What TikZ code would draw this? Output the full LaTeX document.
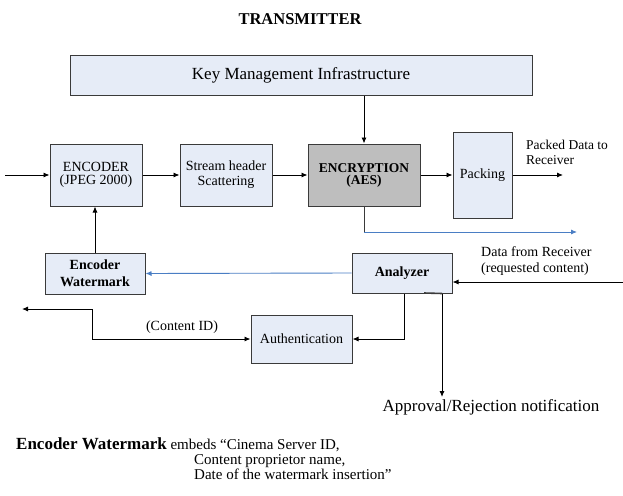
\documentclass[tikz,border=0pt]{standalone}
\usepackage{fontspec}
\setmainfont{Liberation Serif}
\usetikzlibrary{arrows.meta,calc}
\definecolor{boxc}{HTML}{E6ECF7}
\definecolor{grayc}{HTML}{BEBEBE}
\definecolor{linec}{HTML}{3A3A3A}
\definecolor{bluec}{HTML}{4A7EC4}
\begin{document}
\begin{tikzpicture}[x=1pt,y=-1pt,
  box/.style={draw=linec, fill=boxc, line width=1pt, inner sep=0pt, align=center,
    font=\fontsize{14}{15}\selectfont},
  arr/.style={draw=black, line width=0.9pt, -{Latex[length=6pt,width=5pt]}},
  barr/.style={draw=bluec, line width=0.9pt, -{Latex[length=6pt,width=5pt]}},
  lbl/.style={inner sep=0pt, font=\fontsize{14}{15}\selectfont},
  btxt/.style={inner sep=0pt, font=\fontsize{15}{16}\selectfont}]
\useasboundingbox[fill=white] (0,0) rectangle (623,495);

\node[inner sep=0pt, font=\fontsize{16.5}{18}\selectfont\bfseries] (title) at (300,19) {TRANSMITTER};

\node[box, minimum width=462pt, minimum height=39pt, font=\fontsize{17}{18}\selectfont] (km) at (301,75.5) {Key Management Infrastructure};
\node[box, minimum width=92pt, minimum height=62pt, font=\fontsize{14}{13}\selectfont] (enc) at (96,175) {ENCODER\\(JPEG 2000)};
\node[box, minimum width=92pt, minimum height=62pt] (shs) at (226,175) {Stream header\\Scattering};
\node[box, fill=grayc, minimum width=112pt, minimum height=62pt, font=\fontsize{13.5}{12}\selectfont\bfseries] (aes) at (364,175) {ENCRYPTION\\(AES)};
\node[box, minimum width=59pt, minimum height=86pt] (pack) at (482.5,175) {Packing};
\node[box, minimum width=100pt, minimum height=41pt, font=\fontsize{14}{17}\selectfont\bfseries] (ew) at (95,273.5) {Encoder\\Watermark};
\node[box, minimum width=100pt, minimum height=40pt, font=\fontsize{14}{15}\selectfont\bfseries] (an) at (402,273) {Analyzer};
\node[box, minimum width=101pt, minimum height=48pt] (auth) at (301.5,339) {Authentication};

\coordinate (in) at (5,175);
\coordinate (out) at (563,175);
\coordinate (bl) at (577,232);
\coordinate (rin) at (623,282);
\coordinate (cl) at (22,309);
\coordinate (ap) at (442,397);

\draw[arr] (in) -- (enc.west);
\draw[arr] (enc) -- (shs);
\draw[arr] (shs) -- (aes);
\draw[arr] (aes) -- (pack);
\draw[arr] (pack) -- (out);
\draw[arr] (aes.north |- km.south) -- (aes.north);
\draw[draw=linec, line width=0.9pt] (aes.south) -- (aes.south |- bl);
\draw[barr] (aes.south |- bl) -- (bl);
\draw[arr] (ew.north) -- (ew.north |- enc.south);
\draw[barr] (an.west) -- (ew.east);
\draw[arr] (rin) -- (an.east |- rin);
\draw[arr] ([xshift=2pt]an.south) |- (auth.east);
\draw[line width=1.6pt, draw=linec] (424,293) -- (ap |- an.south);
\draw[arr] (ap |- an.south) -- (ap);
\draw[draw=black, line width=0.9pt, {Latex[length=6pt,width=5pt]}-{Latex[length=6pt,width=5pt]}] (cl) -- (92,309) -- (92,339) -- (auth.west);

\node[lbl, anchor=west, align=left, font=\fontsize{13.5}{15}\selectfont] (pd) at (526,152) {Packed Data to\\Receiver};
\node[lbl, anchor=west, align=left, font=\fontsize{14}{16}\selectfont] (dr) at (481,261) {Data from Receiver\\(requested content)};
\node[lbl] (cid) at (182,327) {(Content ID)};
\node[lbl, font=\fontsize{17}{18}\selectfont] (apt) at (491,407) {Approval/Rejection notification};

\node[btxt, anchor=base west] (b1) at (16,449) {{\fontsize{17}{18}\selectfont\bfseries Encoder Watermark} embeds “Cinema Server ID,};
\node[btxt, anchor=base west] (b2) at (194,464) {Content proprietor name,};
\node[btxt, anchor=base west] (b3) at (194,479) {Date of the watermark insertion”};
\end{tikzpicture}
\end{document}
